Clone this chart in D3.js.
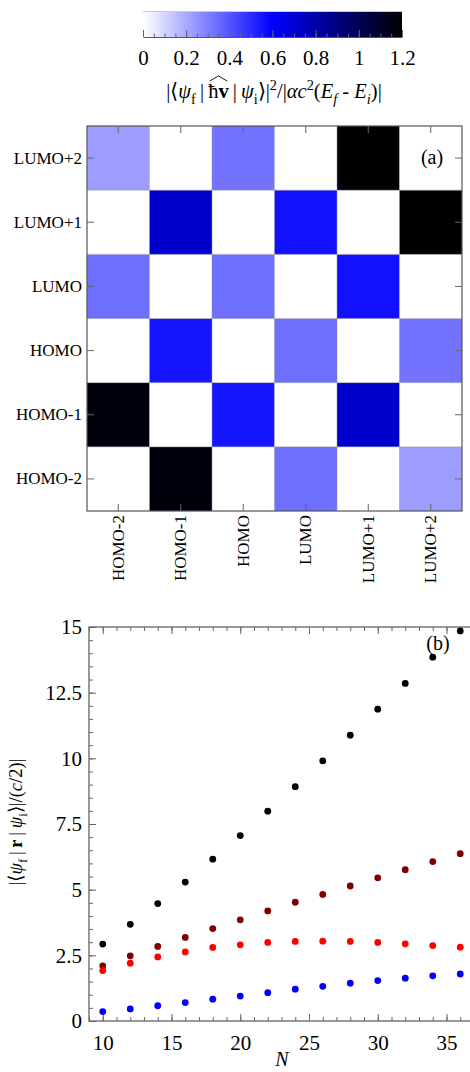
<!DOCTYPE html>
<html>
<head>
<meta charset="utf-8">
<script src="https://cdn.jsdelivr.net/npm/d3@7"></script>
<style>
  body { margin: 0; background: #fff; }
</style>
</head>
<body>
<svg id="chart" width="470" height="1072"></svg>
<script>
// ---- data ----
const ORBITALS = ["HOMO-2", "HOMO-1", "HOMO", "LUMO", "LUMO+1", "LUMO+2"];
// MATRIX[row][col]: row = final orbital (y), col = initial orbital (x)
const MATRIX = [
  [0,    1.17, 0,    0.34, 0,    0.23],
  [1.17, 0,    0.55, 0,    0.72, 0   ],
  [0,    0.55, 0,    0.34, 0,    0.33],
  [0.34, 0,    0.34, 0,    0.56, 0   ],
  [0,    0.72, 0,    0.56, 0,    1.2 ],
  [0.23, 0,    0.33, 0,    1.2,  0   ]
];
const CBAR_TICKS = [0, 0.2, 0.4, 0.6, 0.8, 1, 1.2];

const N_VALUES = [10, 12, 14, 16, 18, 20, 22, 24, 26, 28, 30, 32, 34, 36];
const BLACK_VALUES = [2.93, 3.68, 4.47, 5.29, 6.16, 7.06, 7.99, 8.92, 9.90, 10.88, 11.87, 12.85, 13.85, 14.85];
const DARKRED_VALUES = [2.10, 2.48, 2.84, 3.18, 3.52, 3.85, 4.19, 4.52, 4.82, 5.14, 5.45, 5.76, 6.07, 6.37];
const RED_VALUES = [1.92, 2.20, 2.44, 2.63, 2.80, 2.90, 2.99, 3.03, 3.04, 3.03, 2.99, 2.94, 2.87, 2.81];
const BLUE_VALUES = [0.36, 0.46, 0.58, 0.70, 0.83, 0.95, 1.08, 1.21, 1.32, 1.44, 1.54, 1.63, 1.72, 1.79];
const Y_TICKS = [0, 2.5, 5, 7.5, 10, 12.5, 15];
const X_TICKS = [10, 15, 20, 25, 30, 35];

const FONT = '"Liberation Serif", "Times New Roman", Times, serif';
const FRAME_COLOR = "#555";
const TICK_COLOR = "#666";

const svg = d3.select("#chart");

// colour map white -> blue -> black
const COLOR = d3.scaleLinear()
  .domain([0, 0.6, 1.2])
  .range(["#ffffff", "#0000ff", "#000000"]);

// helper: text made of styled pieces (italic / bold / sub / sup)
function richText(sel, parts) {
  let cur = 0;
  parts.forEach(p => {
    const shift = p.sub ? 0.28 : (p.sup ? -0.4 : 0);
    const t = sel.append("tspan").text(p.t);
    const small = p.sub || p.sup;
    if (small) t.style("font-size", "70%");
    if (shift !== cur) t.attr("dy", ((shift - cur) / (small ? 0.7 : 1)) + "em");
    if (p.it) t.style("font-style", "italic");
    if (p.b) t.style("font-weight", "bold");
    cur = shift;
  });
  return parts.map(p => p.t).join("");
}

// ---- colour bar ----
const CB = { x0: 143, x1: 402, top: 11, bottom: 37 };
const cbScale = d3.scaleLinear().domain([0, 1.2]).range([CB.x0, CB.x1]);

const grad = svg.append("defs").append("linearGradient")
  .attr("id", "cbgrad").attr("x1", "0%").attr("x2", "100%");
d3.range(0, 1.2001, 0.1).forEach(v => {
  grad.append("stop").attr("offset", (v / 1.2 * 100) + "%").attr("stop-color", COLOR(v));
});

svg.append("rect")
  .attr("x", CB.x0).attr("y", CB.top)
  .attr("width", CB.x1 - CB.x0).attr("height", CB.bottom - CB.top)
  .attr("fill", "url(#cbgrad)");
svg.append("line")
  .attr("x1", CB.x0).attr("x2", CB.x1).attr("y1", CB.top + 0.5).attr("y2", CB.top + 0.5)
  .attr("stroke", "#ccc");

// minor ticks on the bar
svg.append("g")
  .attr("transform", "translate(0," + CB.bottom + ")")
  .call(d3.axisBottom(cbScale).tickValues(d3.range(0, 1.2001, 0.05)).tickSize(-3.5).tickFormat(""))
  .call(g => g.select(".domain").remove())
  .call(g => g.selectAll("line").attr("stroke", TICK_COLOR));
// major ticks + labels
svg.append("g")
  .attr("transform", "translate(0," + CB.bottom + ")")
  .call(d3.axisBottom(cbScale).tickValues(CBAR_TICKS).tickSize(-7).tickSizeOuter(0).tickPadding(13)
    .tickFormat(d3.format("~g")))
  .call(g => g.select(".domain").attr("stroke", FRAME_COLOR))
  .call(g => g.selectAll("line").attr("stroke", TICK_COLOR))
  .call(g => g.selectAll("text").attr("font-size", 21));

// colour bar label
const cbLabel = svg.append("text")
  .attr("x", 274).attr("y", 98)
  .attr("text-anchor", "middle")
  .attr("font-size", 20.5)
  .style("font-family", FONT);
const cbStr = richText(cbLabel, [
  { t: "|\u27E8" }, { t: "\u03C8", it: true }, { t: "f", sub: true },
  { t: "\u2009|\u2009" }, { t: "\u0127" }, { t: "v", b: true }, { t: "\u2009|\u2009" },
  { t: "\u03C8", it: true }, { t: "i", sub: true }, { t: "\u27E9|" }, { t: "2", sup: true },
  { t: "/|" }, { t: "\u03B1c", it: true }, { t: "2", sup: true }, { t: "(" },
  { t: "E", it: true }, { t: "f", it: true, sub: true }, { t: " - " },
  { t: "E", it: true }, { t: "i", it: true, sub: true }, { t: ")|" }
]);

// ---- panel (a): heat map ----
const HM = { left: 87, right: 462, top: 126, bottom: 511 };
const hx = d3.scaleBand().domain(ORBITALS).range([HM.left, HM.right]);
const hy = d3.scaleBand().domain(ORBITALS).range([HM.bottom, HM.top]);

const cells = [];
MATRIX.forEach((row, i) => row.forEach((v, j) => cells.push({ r: ORBITALS[i], c: ORBITALS[j], v: v })));

svg.append("g").selectAll("rect")
  .data(cells)
  .enter()
  .append("rect")
    .attr("x", d => hx(d.c))
    .attr("y", d => hy(d.r))
    .attr("width", hx.bandwidth())
    .attr("height", hy.bandwidth())
    .attr("fill", d => COLOR(d.v));

// mesh lines
const mesh = svg.append("g").attr("stroke", "rgba(150,150,170,0.5)").attr("stroke-width", 1);
ORBITALS.slice(1).forEach(o => {
  mesh.append("line").attr("x1", hx(o)).attr("x2", hx(o)).attr("y1", HM.top).attr("y2", HM.bottom);
  mesh.append("line").attr("y1", hy(o) + hy.bandwidth()).attr("y2", hy(o) + hy.bandwidth())
    .attr("x1", HM.left).attr("x2", HM.right);
});

svg.append("rect")
  .attr("x", HM.left).attr("y", HM.top)
  .attr("width", HM.right - HM.left).attr("height", HM.bottom - HM.top)
  .attr("fill", "none").attr("stroke", FRAME_COLOR).attr("stroke-width", 1.2);

function styleAxis(g) {
  g.select(".domain").remove();
  g.selectAll("line").attr("stroke", TICK_COLOR);
}

svg.append("g")
  .attr("transform", "translate(" + HM.left + ",0)")
  .call(d3.axisLeft(hy).tickSize(-7).tickPadding(5))
  .call(styleAxis)
  .call(g => g.selectAll("text").attr("font-size", 17));
svg.append("g")
  .attr("transform", "translate(0," + HM.bottom + ")")
  .call(d3.axisBottom(hx).tickSize(-7))
  .call(styleAxis)
  .call(g => g.selectAll("text")
    .attr("font-size", 17)
    .attr("transform", "rotate(-90)")
    .attr("text-anchor", "end")
    .attr("x", -4).attr("y", 0).attr("dy", "0.33em"));
svg.append("g")
  .attr("transform", "translate(0," + HM.top + ")")
  .call(d3.axisTop(hx).tickSize(-7).tickFormat(""))
  .call(styleAxis);
svg.append("g")
  .attr("transform", "translate(" + HM.right + ",0)")
  .call(d3.axisRight(hy).tickSize(-7).tickFormat(""))
  .call(styleAxis);

svg.append("text")
  .attr("x", 432).attr("y", 164)
  .attr("text-anchor", "middle").attr("font-size", 20)
  .text("(a)");

// ---- panel (b): scatter ----
const SC = { left: 89, right: 474, top: 627, bottom: 1021 };
const X_SCALE = d3.scaleLinear().domain([9, 37]).range([SC.left, SC.right]);
const Y_SCALE = d3.scaleLinear().domain([0, 15]).range([SC.bottom, SC.top]);

svg.append("rect")
  .attr("x", SC.left).attr("y", SC.top)
  .attr("width", SC.right - SC.left).attr("height", SC.bottom - SC.top)
  .attr("fill", "none").attr("stroke", FRAME_COLOR).attr("stroke-width", 1.2);

const xMinor = d3.range(9, 37.01, 1);
const yMinor = d3.range(0, 15.01, 0.5);

// bottom
svg.append("g").attr("transform", "translate(0," + SC.bottom + ")")
  .call(d3.axisBottom(X_SCALE).tickValues(xMinor).tickSize(-4).tickFormat(""))
  .call(styleAxis);
svg.append("g").attr("transform", "translate(0," + SC.bottom + ")")
  .call(d3.axisBottom(X_SCALE).tickValues(X_TICKS).tickSize(-7).tickPadding(14).tickFormat(d3.format("~g")))
  .call(styleAxis)
  .call(g => g.selectAll("text").attr("font-size", 21));
// top
svg.append("g").attr("transform", "translate(0," + SC.top + ")")
  .call(d3.axisTop(X_SCALE).tickValues(xMinor).tickSize(-4).tickFormat(""))
  .call(styleAxis);
svg.append("g").attr("transform", "translate(0," + SC.top + ")")
  .call(d3.axisTop(X_SCALE).tickValues(X_TICKS).tickSize(-7).tickFormat(""))
  .call(styleAxis);
// left
svg.append("g").attr("transform", "translate(" + SC.left + ",0)")
  .call(d3.axisLeft(Y_SCALE).tickValues(yMinor).tickSize(-4).tickFormat(""))
  .call(styleAxis);
svg.append("g").attr("transform", "translate(" + SC.left + ",0)")
  .call(d3.axisLeft(Y_SCALE).tickValues(Y_TICKS).tickSize(-7).tickPadding(7).tickFormat(d3.format("~g")))
  .call(styleAxis)
  .call(g => g.selectAll("text").attr("font-size", 21));

const SERIES = [
  { values: BLACK_VALUES, color: "#000000" },
  { values: DARKRED_VALUES, color: "#800000" },
  { values: RED_VALUES, color: "#ff0000" },
  { values: BLUE_VALUES, color: "#0000ff" }
];
SERIES.forEach(s => {
  svg.append("g").selectAll("circle")
    .data(N_VALUES.map((n, i) => ({ n: n, v: s.values[i] })))
    .enter()
    .append("circle")
      .attr("cx", d => X_SCALE(d.n))
      .attr("cy", d => Y_SCALE(d.v))
      .attr("r", 3.4)
      .attr("fill", s.color);
});

svg.append("text")
  .attr("x", 438).attr("y", 650)
  .attr("text-anchor", "middle").attr("font-size", 20)
  .text("(b)");

svg.append("text")
  .attr("x", 282).attr("y", 1066)
  .attr("text-anchor", "middle").attr("font-size", 20)
  .style("font-style", "italic")
  .text("N");

const yLabel = svg.append("text")
  .attr("transform", "translate(22,822) rotate(-90)")
  .attr("text-anchor", "middle")
  .attr("font-size", 18.5);
richText(yLabel, [
  { t: "|\u27E8" }, { t: "\u03C8", it: true }, { t: "f", sub: true },
  { t: "\u2009|\u2009" }, { t: "r", b: true }, { t: "\u2009|\u2009" },
  { t: "\u03C8", it: true }, { t: "i", sub: true }, { t: "\u27E9|/(" },
  { t: "c", it: true }, { t: "/2)|" }
]);

// every text in the serif face
svg.selectAll("text").style("font-family", FONT).attr("fill", "#000");

// hat over "ħv" in the colour bar label (measured after the font is set)
{
  const node = cbLabel.node();
  const idx = cbStr.indexOf("\u0127");
  const a = node.getExtentOfChar(idx);
  const b = node.getExtentOfChar(idx + 1);
  const xa = a.x + 1.5, xb = b.x + b.width - 1.5;
  const yb = a.y + 1;
  svg.append("path")
    .attr("d", "M" + xa + "," + yb + " L" + ((xa + xb) / 2) + "," + (yb - 5) + " L" + xb + "," + yb)
    .attr("fill", "none").attr("stroke", "#000").attr("stroke-width", 0.9);
}
</script>
</body>
</html>
